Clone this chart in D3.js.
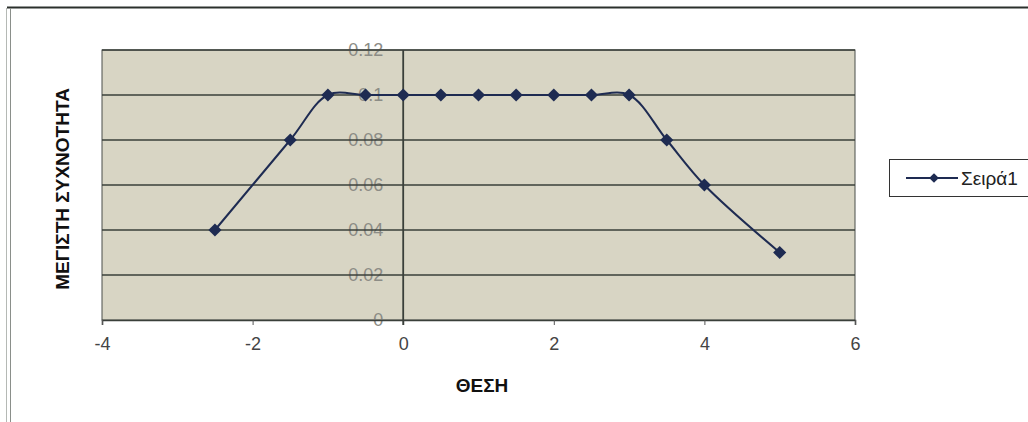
<!DOCTYPE html>
<html lang="el">
<head>
<meta charset="UTF-8">
<title>ΘΕΣΗ - ΜΕΓΙΣΤΗ ΣΥΧΝΟΤΗΤΑ</title>
<script src="https://cdn.jsdelivr.net/npm/d3@7"></script>
<style>
	body { margin: 0; background: #fff; }
	svg { display: block; font-family: Arial, "Liberation Sans", sans-serif; }
</style>
</head>
<body>
<svg></svg>
<script>
	// data
	var positions = [-2.5, -1.5, -1, -0.5, 0, 0.5, 1, 1.5, 2, 2.5, 3, 3.5, 4, 5];
	var frequencies = [0.04, 0.08, 0.1, 0.1, 0.1, 0.1, 0.1, 0.1, 0.1, 0.1, 0.1, 0.08, 0.06, 0.03];
	var xTicks = [-4, -2, 0, 2, 4, 6];
	var yTicks = [0, 0.02, 0.04, 0.06, 0.08, 0.1, 0.12];
	var seriesName = 'Σειρά1';
	var xTitle = 'ΘΕΣΗ';
	var yTitle = 'ΜΕΓΙΣΤΗ ΣΥΧΝΟΤΗΤΑ';

	var W = 1028, H = 422;
	var plot = {left: 102, top: 50, right: 855, bottom: 320};
	var navy = '#1e2b52';

	var svg = d3.select('svg')
		.attr('width', W)
		.attr('height', H);

	var data = positions.map(function (p, i) {
		return {x: p, y: frequencies[i]};
	});

	var x = d3.scaleLinear().domain([-4, 6]).range([plot.left, plot.right]);
	var y = d3.scaleLinear().domain([0, 0.12]).range([plot.bottom, plot.top]);

	// outer chart frame (scanned look)
	svg.append('line')
		.attr('x1', 7).attr('x2', W).attr('y1', 7.5).attr('y2', 7.5)
		.attr('stroke', '#2b302c').attr('stroke-width', 2);
	svg.append('line')
		.attr('x1', 10.5).attr('x2', 10.5).attr('y1', 8).attr('y2', H)
		.attr('stroke', '#8a8f8a').attr('stroke-width', 1);
	svg.append('line')
		.attr('x1', 6.5).attr('x2', 6.5).attr('y1', 8).attr('y2', H)
		.attr('stroke', '#b5b9b5').attr('stroke-width', 1);

	// plot background
	svg.append('rect')
		.attr('x', plot.left).attr('y', plot.top)
		.attr('width', plot.right - plot.left)
		.attr('height', plot.bottom - plot.top)
		.attr('fill', '#d8d5c4')
		.attr('stroke', '#4a4f4a')
		.attr('stroke-width', 1);

	// y tick labels (sit under the grid lines)
	svg.append('g').selectAll('text')
		.data(yTicks)
		.enter()
		.append('text')
		.attr('x', x(0) - 20)
		.attr('y', function (d) { return y(d); })
		.attr('dy', '0.35em')
		.attr('text-anchor', 'end')
		.attr('fill', '#8c8c86')
		.style('font-size', '18px')
		.text(function (d) { return d; });

	// horizontal grid lines
	svg.append('g').selectAll('line')
		.data(yTicks.slice(1))
		.enter()
		.append('line')
		.attr('x1', plot.left).attr('x2', plot.right)
		.attr('y1', function (d) { return y(d); })
		.attr('y2', function (d) { return y(d); })
		.attr('stroke', '#3a3f3a')
		.attr('stroke-width', 1.6);

	// x axis along the bottom
	var xAxis = svg.append('g')
		.attr('transform', 'translate(0,' + plot.bottom + ')')
		.call(d3.axisBottom(x).tickValues(xTicks).tickSize(5).tickPadding(12)
			.tickFormat(function (d) { return String(d); }));
	xAxis.select('.domain').attr('stroke', '#3a3f3a').attr('stroke-width', 1.6);
	xAxis.selectAll('.tick line').attr('stroke', '#555');
	xAxis.selectAll('.tick text')
		.attr('fill', '#444')
		.style('font-family', 'Arial, "Liberation Sans", sans-serif')
		.style('font-size', '18px');

	// y axis crossing at x = 0
	svg.append('line')
		.attr('x1', x(0)).attr('x2', x(0))
		.attr('y1', plot.top).attr('y2', plot.bottom + 5)
		.attr('stroke', '#3a3f3a')
		.attr('stroke-width', 1.8);

	// smoothed series line
	var line = d3.line()
		.x(function (d) { return x(d.x); })
		.y(function (d) { return y(d.y); })
		.curve(d3.curveCatmullRom.alpha(0.5));

	svg.append('path')
		.datum(data)
		.attr('fill', 'none')
		.attr('stroke', navy)
		.attr('stroke-width', 2)
		.attr('d', line);

	var diamond = d3.symbol().type(d3.symbolDiamond2).size(110);

	svg.append('g').selectAll('path')
		.data(data)
		.enter()
		.append('path')
		.attr('transform', function (d) {
			return 'translate(' + x(d.x) + ',' + y(d.y) + ')';
		})
		.attr('d', diamond)
		.attr('fill', navy);

	// axis titles
	svg.append('text')
		.attr('x', 482)
		.attr('y', 392)
		.attr('text-anchor', 'middle')
		.attr('fill', '#111')
		.style('font-size', '19px')
		.style('font-weight', 'bold')
		.text(xTitle);

	svg.append('text')
		.attr('transform', 'translate(69,189) rotate(-90)')
		.attr('text-anchor', 'middle')
		.attr('fill', '#111')
		.style('font-size', '19px')
		.style('font-weight', 'bold')
		.text(yTitle);

	// legend
	var legend = svg.append('g');
	legend.append('rect')
		.attr('x', 889.5).attr('y', 159.5)
		.attr('width', 140).attr('height', 37)
		.attr('fill', '#fff')
		.attr('stroke', '#333')
		.attr('stroke-width', 1);
	legend.append('line')
		.attr('x1', 906).attr('x2', 958)
		.attr('y1', 178).attr('y2', 178)
		.attr('stroke', navy).attr('stroke-width', 2);
	legend.append('path')
		.attr('transform', 'translate(934,178)')
		.attr('d', d3.symbol().type(d3.symbolDiamond2).size(60))
		.attr('fill', navy);
	legend.append('text')
		.attr('x', 961).attr('y', 178)
		.attr('dy', '0.35em')
		.attr('fill', '#222')
		.style('font-size', '19px')
		.text(seriesName);
</script>
</body>
</html>
